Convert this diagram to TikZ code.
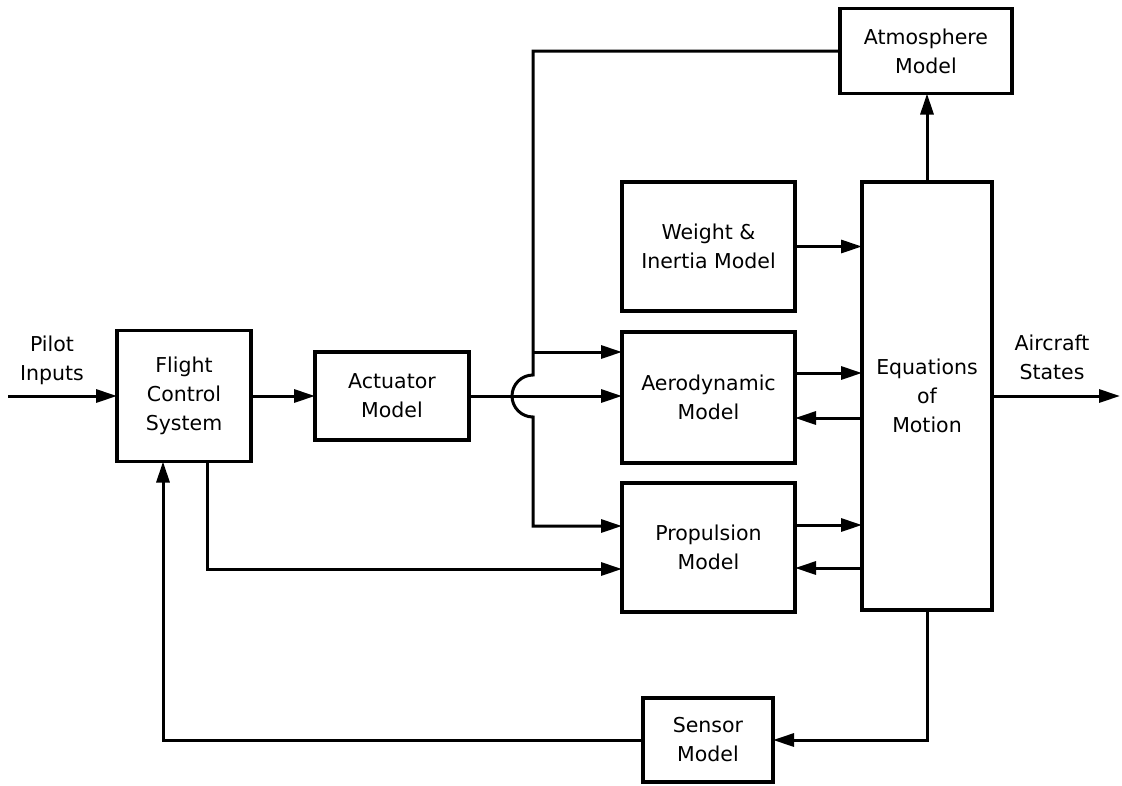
\documentclass[tikz,border=0pt]{standalone}
\usepackage{fontspec}
\setmainfont{DejaVu Sans}
\usetikzlibrary{arrows.meta}
\begin{document}
\begin{tikzpicture}[x=1pt,y=-1pt,
  box/.style={draw,line width=3.2pt,align=center,inner sep=0pt,outer sep=0pt,
    font=\fontsize{20.5}{29}\selectfont},
  lbl/.style={align=center,inner sep=0pt,font=\fontsize{20.5}{29}\selectfont},
  arr/.style={line width=3pt,-{Triangle[length=21pt,width=13pt]}}]
\fill[white] (0,0) rectangle (1122,785);
\useasboundingbox (0,0) rectangle (1122,785);

\node[box,minimum width=134pt,minimum height=131pt] (fcs) at (184,396) {Flight\\Control\\System};
\node[box,minimum width=154pt,minimum height=88pt] (act) at (392,396) {Actuator\\Model};
\node[box,minimum width=172pt,minimum height=85pt] (atm) at (926,51) {Atmosphere\\Model};
\node[box,minimum width=173pt,minimum height=129pt] (wt) at (708.5,246.5) {Weight \&\\Inertia Model};
\node[box,minimum width=173pt,minimum height=131pt] (aero) at (708.5,397.5) {Aerodynamic\\Model};
\node[box,minimum width=173pt,minimum height=129pt] (prop) at (708.5,547.5) {Propulsion\\Model};
\node[box,minimum width=130pt,minimum height=428pt] (eom) at (927,396) {Equations\\of\\Motion};
\node[box,minimum width=130pt,minimum height=84pt] (sen) at (708,740) {Sensor\\Model};

\node[lbl] (pilot) at (52,360) {Pilot\\Inputs};
\node[lbl] (states) at (1052,357) {Aircraft\\States};

\coordinate (pin) at (8,396);
\coordinate (pout) at (1120,396);
\coordinate (bus) at (533,51);
\coordinate (j1) at (533,352);
\coordinate (j2) at (533,526);
\coordinate (f2) at (207,569);
\coordinate (fb) at (163,740);
\coordinate (a1) at (0,373);
\coordinate (a2) at (0,418);
\coordinate (p1) at (0,525);
\coordinate (p2) at (0,568);

\draw[arr] (pin) -- (fcs.west);
\draw[arr] (fcs.east) -- (act.west);
\draw[arr] (act.east) -- (aero.west |- act.east);
\draw[arr] (atm.west) -- (bus) -- (533,375) arc[start angle=270,end angle=90,radius=21] -- (j2) -- (j2 -| prop.west);
\draw[arr] (j1) -- (j1 -| aero.west);
\draw[arr] (f2 |- fcs.south) -- (f2) -- (f2 -| prop.west);
\draw[arr] (sen.west) -- (fb) -- (fb |- fcs.south);
\draw[arr] (eom.south) |- (sen.east);
\draw[arr] (eom.north) -- (eom.north |- atm.south);
\draw[arr] (wt.east) -- (wt.east -| eom.west);
\draw[arr] (aero.east |- a1) -- (eom.west |- a1);
\draw[arr] (eom.west |- a2) -- (aero.east |- a2);
\draw[arr] (prop.east |- p1) -- (eom.west |- p1);
\draw[arr] (eom.west |- p2) -- (prop.east |- p2);
\draw[arr] (eom.east) -- (pout);
\end{tikzpicture}
\end{document}
